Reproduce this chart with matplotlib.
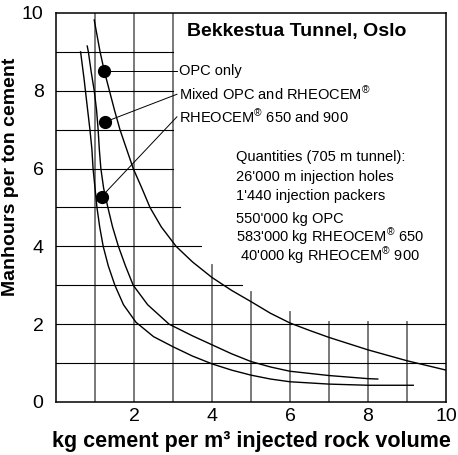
import matplotlib
matplotlib.use('Agg')
import matplotlib.pyplot as plt

plt.rcParams.update({
    'font.family': ['Liberation Sans', 'DejaVu Sans'],
    'mathtext.fontset': 'custom',
    'mathtext.rm': 'Liberation Sans',
    'mathtext.it': 'Liberation Sans',
    'mathtext.bf': 'Liberation Sans:bold',
})

# curves (x = kg cement per m3, y = manhours per ton)
opc_x = [0.98, 1.13, 1.24, 1.37, 1.50, 1.64, 1.81, 1.98, 2.20, 2.41, 2.70, 3.08,
         3.50, 4.00, 4.50, 5.00, 5.50, 6.00, 6.50, 7.00, 7.50, 8.00, 8.50, 9.00,
         9.50, 10.0]
opc_y = [9.82, 9.00, 8.50, 8.00, 7.50, 7.00, 6.50, 6.00, 5.50, 5.00, 4.50, 4.00,
         3.60, 3.20, 2.87, 2.58, 2.28, 2.03, 1.84, 1.66, 1.50, 1.34, 1.20, 1.06,
         0.94, 0.82]

mixed_x = [0.80, 0.83, 0.90, 0.98, 1.04, 1.08, 1.11, 1.15, 1.22, 1.33, 1.45, 1.60,
           1.78, 1.98, 2.35, 2.90, 3.50, 4.00, 4.50, 5.00, 5.50, 6.00, 7.00, 8.00,
           8.25]
mixed_y = [9.15, 9.00, 8.50, 8.00, 7.50, 7.00, 6.50, 6.00, 5.50, 5.00, 4.50, 4.00,
           3.50, 3.00, 2.50, 2.00, 1.70, 1.47, 1.24, 1.04, 0.90, 0.79, 0.68, 0.60,
           0.59]

rheo_x = [0.63, 0.72, 0.80, 0.87, 0.92, 0.95, 1.00, 1.05, 1.12, 1.21, 1.34, 1.51,
          1.73, 2.05, 2.50, 3.00, 3.50, 4.00, 4.50, 5.00, 5.50, 6.00, 7.00, 8.00,
          9.16]
rheo_y = [9.00, 8.30, 7.60, 7.00, 6.50, 6.00, 5.50, 5.00, 4.50, 4.00, 3.50, 3.00,
          2.50, 2.05, 1.68, 1.42, 1.18, 0.98, 0.82, 0.69, 0.59, 0.52, 0.46, 0.43,
          0.43]

# labelled dots
dot_x = [1.24, 1.26, 1.17]
dot_y = [8.51, 7.20, 5.28]
dot_labels = ['OPC only', 'Mixed OPC and RHEOCEM$^{®}$', 'RHEOCEM$^{®}$ 650 and 900']
label_y = [8.51, 7.91, 7.33]

title = 'Bekkestua Tunnel, Oslo'
quantities = ['Quantities (705 m tunnel):',
              "26'000 m injection holes",
              "1'440 injection packers",
              "550'000 kg OPC",
              "583'000 kg RHEOCEM$^{®}$ 650",
              "40'000 kg RHEOCEM$^{®}$ 900"]
quantities_y = [6.30, 5.78, 5.30, 4.70, 4.24, 3.75]

# partial grid (line position, extent)
hgrid_y = [1, 2, 3, 4, 5, 6, 7, 8, 9]
hgrid_end = [10, 10, 4.76, 3.73, 3.18, 3.0, 3.0, 3.0, 3.0]
vgrid_x = [1, 2, 3, 4, 5, 6, 7, 8, 9]
vgrid_top = [10, 10, 10, 3.52, 2.82, 2.31, 2.05, 2.05, 2.05]

fig = plt.figure(figsize=(4.58, 4.55), dpi=100)
ax = fig.add_axes([0.1223, 0.1165, 0.8515, 0.855])

for x, top in zip(vgrid_x, vgrid_top):
    ax.plot([x, x], [0, top], color='#6e6e6e', lw=1.3, zorder=1)
for y, end in zip(hgrid_y, hgrid_end):
    ax.plot([0, end], [y, y], color='black', lw=0.8, zorder=1)

for xs, ys in [(opc_x, opc_y), (mixed_x, mixed_y), (rheo_x, rheo_y)]:
    ax.plot(xs, ys, color='black', lw=1.0, zorder=2)

# leader lines from dots to labels
for dx, dy, ly in zip(dot_x, dot_y, label_y):
    ax.plot([dx, 3.1], [dy, ly], color='black', lw=0.7, zorder=2)
ax.plot(dot_x, dot_y, 'o', color='black', ms=8.5, zorder=3)

for lab, ly in zip(dot_labels, label_y):
    ax.text(3.16, ly, lab, fontsize=10.5, va='center', ha='left')

ax.text(3.36, 9.52, title, fontsize=14, fontweight='bold', va='center', ha='left')

for i, (q, qy) in enumerate(zip(quantities, quantities_y)):
    qx = 4.72 if i == len(quantities) - 1 else 4.62
    ax.text(qx, qy, q, fontsize=10.5, va='center', ha='left')

ax.set_xlim(0, 10)
ax.set_ylim(0, 10)
ax.set_xticks([2, 4, 6, 8, 10])
ax.set_yticks([0, 2, 4, 6, 8, 10])
ax.tick_params(length=0, labelsize=14)
ax.tick_params(axis='y', pad=9)
ax.tick_params(axis='x', pad=4)
for s in ax.spines.values():
    s.set_linewidth(1.1)

ax.set_xlabel('kg cement per m³ injected rock volume', fontsize=15.5, fontweight='bold')
ax.set_ylabel('Manhours per ton cement', fontsize=14, fontweight='bold')
ax.xaxis.set_label_coords(0.5, -0.075)
ax.yaxis.set_label_coords(-0.095, 0.578)

fig.savefig('out.png', dpi=100)
